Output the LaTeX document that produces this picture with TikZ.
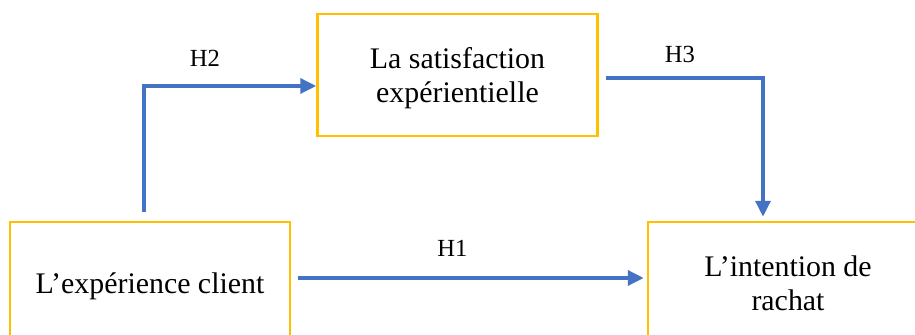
\documentclass[tikz,border=0pt]{standalone}
\usepackage{fontspec}
\setmainfont{Liberation Serif}
\usetikzlibrary{arrows.meta, positioning}
\definecolor{link blue}{HTML}{4472C4}
\definecolor{frame gold}{HTML}{FFC000}
\tikzset{concept/.style={draw=frame gold, line width=1.5pt, minimum width=5.6cm, minimum height=2.44cm, inner sep=0pt, text depth=0pt, align=center, font=\fontsize{17}{19}\selectfont}}
\tikzset{link/.style={link blue, line width=1.9pt, -{Triangle[length=9pt, width=8.5pt]}}}
\tikzset{hyp/.style={font=\fontsize{14}{16}\selectfont}}

\begin{document}
\begin{tikzpicture}
                \useasboundingbox (0, 0) rectangle (18.3, 6.7);
                \clip (0, 0) rectangle (18.3, 6.7);
                \node[concept] (experience) at (3, 1.04) {L’expérience client};
                \node[concept] (satisfaction) at (9.15, 5.2) {La satisfaction\\expérientielle};
                \node[concept] (intention) at (15.76, 1.04) {L’intention de\\rachat};
                \draw[link] ([xshift=-0.12cm, yshift=0.18cm]experience.north) |- ([yshift=-0.22cm]satisfaction.west);
                \draw[link] ([xshift=0.14cm, yshift=-0.06cm]satisfaction.east) -| ([xshift=-0.5cm, yshift=0.08cm]intention.north);
                \draw[link] ([xshift=0.14cm, yshift=0.1cm]experience.east) -- ([xshift=-0.06cm, yshift=0.1cm]intention.west);
                \node[hyp] (h2) at (4.1, 5.53) {H2};
                \node[hyp] (h3) at (13.6, 5.62) {H3};
                \node[hyp] (h1) at (9.05, 1.74) {H1};
            \end{tikzpicture}
\end{document}
